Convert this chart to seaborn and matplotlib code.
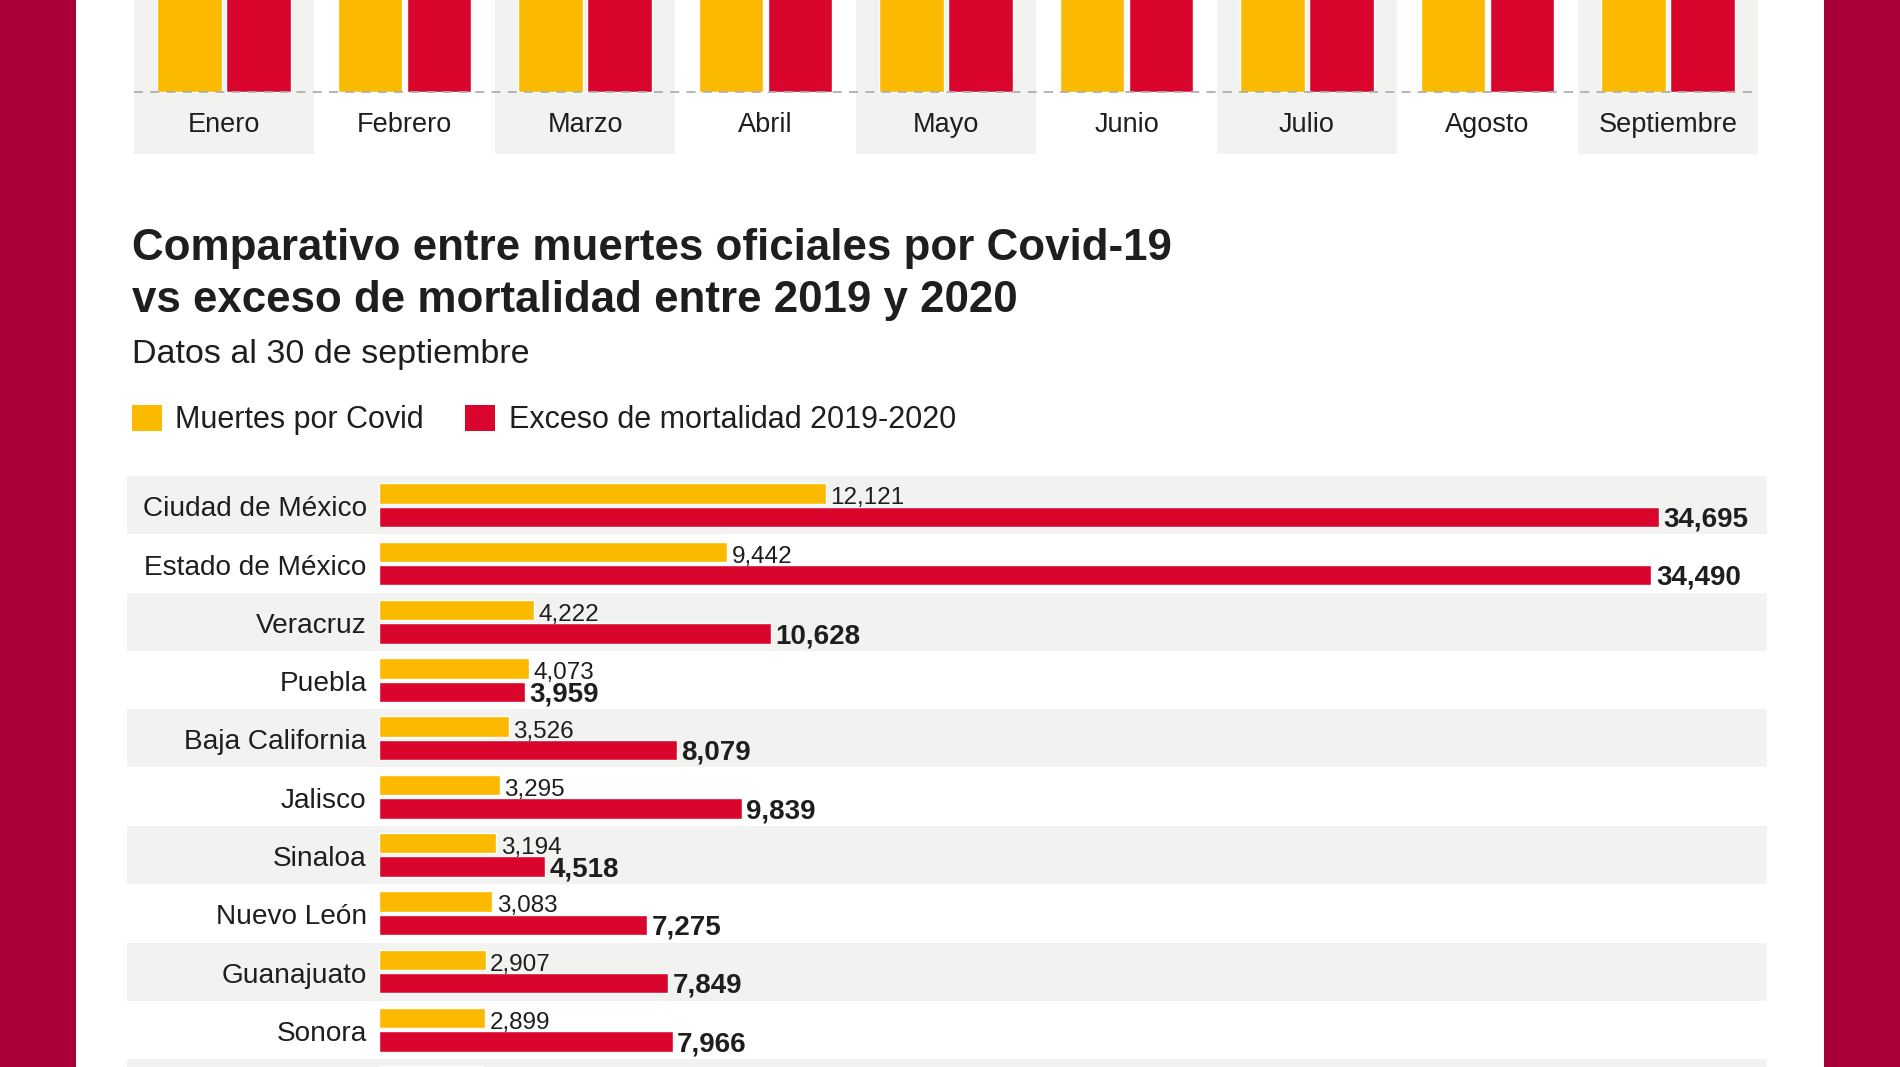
import numpy as np
import pandas as pd
import matplotlib
matplotlib.use("Agg")
import matplotlib.pyplot as plt
import matplotlib.transforms as mtransforms
from matplotlib.patches import Rectangle, Patch
import seaborn as sns

# ---------------- data ----------------
meses = ["Enero", "Febrero", "Marzo", "Abril", "Mayo", "Junio", "Julio", "Agosto", "Septiembre"]
# Upper monthly panel: the bars are cut by the top edge of the picture, only their bases are
# visible, so these are rough estimates (all of them run past the visible area).
mes_serie_amarilla = [67000, 58000, 62000, 57000, 60000, 56000, 58000, 57000, 56000]
mes_serie_roja = [70000, 62000, 65000, 75000, 105000, 110000, 115000, 95000, 80000]

estados = ["Ciudad de México", "Estado de México", "Veracruz", "Puebla", "Baja California",
           "Jalisco", "Sinaloa", "Nuevo León", "Guanajuato", "Sonora", ""]
muertes_covid = [12121, 9442, 4222, 4073, 3526, 3295, 3194, 3083, 2907, 2899, 2837]
exceso_mortalidad = [34695, 34490, 10628, 3959, 8079, 9839, 4518, 7275, 7849, 7966, None]

serie_covid = "Muertes por Covid"
serie_exceso = "Exceso de mortalidad 2019-2020"

titulo = "Comparativo entre muertes oficiales por Covid-19\nvs exceso de mortalidad entre 2019 y 2020"
subtitulo = "Datos al 30 de septiembre"

# ---------------- style ----------------
AMARILLO = "#FBBA00"
ROJO = "#DA052C"
GRANATE = "#A9003A"
GRIS = "#F2F2F0"
TEXTO = "#1E1E1C"

sns.set_theme(style="white")
plt.rcParams["font.family"] = ["Liberation Sans", "DejaVu Sans"]
plt.rcParams["text.color"] = TEXTO

W, H = 1900, 1067
fig = plt.figure(figsize=(W / 100, H / 100), dpi=100)
fig.patch.set_facecolor(GRANATE)
fig.add_artist(Rectangle((76 / W, 0), (1824 - 76) / W, 1, transform=fig.transFigure,
                         facecolor="white", edgecolor="none", zorder=-5))


def box(l, t, r, b):
    return [l / W, 1 - b / H, (r - l) / W, (b - t) / H]


# ---------------- upper monthly panel ----------------
df_mes = pd.DataFrame({
    "mes": meses * 2,
    "valor": mes_serie_amarilla + mes_serie_roja,
    "serie": ["a"] * len(meses) + ["b"] * len(meses),
})
ax1 = fig.add_axes(box(133.75, 0, 1758.25, 154))
ax1.set_facecolor("none")
sns.barplot(data=df_mes, x="mes", y="valor", hue="serie", palette=[AMARILLO, ROJO],
            width=0.76, gap=0.06, saturation=1, errorbar=None, legend=False, ax=ax1, zorder=2)
ytop = 5000
ybot = -ytop * 62.5 / 91.5
ax1.set_ylim(ybot, ytop)
ax1.set_xlim(-0.5, len(meses) - 0.5)
for i in range(0, len(meses), 2):
    ax1.axvspan(i - 0.4986, i + 0.4986, color=GRIS, zorder=0, lw=0)
ax1.axhline(0, color="#AFAFAF", lw=1.3, ls=(0, (5, 4)), zorder=3)
tr1 = mtransforms.blended_transform_factory(ax1.transData, ax1.transAxes)
for i, m in enumerate(meses):
    ax1.text(i, 0.19, m, transform=tr1, ha="center", va="center", fontsize=19.5, color=TEXTO)
ax1.set_xticks([])
ax1.set_yticks([])
ax1.set_xlabel("")
ax1.set_ylabel("")
sns.despine(ax=ax1, left=True, bottom=True)

# ---------------- titles ----------------
fig.text(131.6 / W, 1 - 260 / H, titulo.split("\n")[0], fontsize=31.6, fontweight="bold",
         va="baseline", ha="left")
fig.text(131.6 / W, 1 - 312 / H, titulo.split("\n")[1], fontsize=31.6, fontweight="bold",
         va="baseline", ha="left")
fig.text(131.6 / W, 1 - 363 / H, subtitulo, fontsize=24.5, va="baseline", ha="left")

# legend
handles = [Patch(facecolor=AMARILLO, edgecolor="none", label=serie_covid),
           Patch(facecolor=ROJO, edgecolor="none", label=serie_exceso)]
fig.legend(handles=handles, loc="center left", bbox_to_anchor=(131.6 / W, 1 - 420 / H),
           ncol=2, frameon=False, fontsize=22, borderpad=0, borderaxespad=0,
           handlelength=0.98, handleheight=0.95, handletextpad=0.45, columnspacing=1.35)

# ---------------- main horizontal bar chart ----------------
rows = []
for e, c, x in zip(estados, muertes_covid, exceso_mortalidad):
    rows.append({"estado": e, "serie": serie_covid, "valor": c})
    if x is not None:
        rows.append({"estado": e, "serie": serie_exceso, "valor": x})
df = pd.DataFrame(rows)

ax2 = fig.add_axes(box(127, 476, 1767, 1067))
ax2.set_facecolor("none")
sns.barplot(data=df, y="estado", x="valor", hue="serie", order=estados,
            hue_order=[serie_covid, serie_exceso], palette=[AMARILLO, ROJO],
            orient="h", width=0.8, gap=0.125, saturation=1, errorbar=None,
            legend=False, ax=ax2, zorder=2)
x0_px = 378.5
px_per_unit = (1659 - x0_px) / 34695
ax2.set_xlim(-(x0_px - 127) / px_per_unit, (1767 - x0_px) / px_per_unit)
ax2.set_ylim(-0.5 + (1067 - 476) / 58.3, -0.5)
for i in range(0, len(estados), 2):
    ax2.axhspan(i - 0.497, i + 0.497, color=GRIS, zorder=0, lw=0)

for i, (e, c, x) in enumerate(zip(estados, muertes_covid, exceso_mortalidad)):
    if e:
        ax2.annotate(e, xy=(0, i), xytext=(-8.5, -8.0), textcoords="offset points",
                     ha="right", va="baseline", fontsize=20.2, color=TEXTO,
                     annotation_clip=False)
    ax2.annotate(f"{c:,}", xy=(c, i), xytext=(3.2, 0.6), textcoords="offset points",
                 ha="left", va="baseline", fontsize=17.5, color=TEXTO, annotation_clip=False)
    if x is not None:
        ax2.annotate(f"{x:,}", xy=(x, i), xytext=(3.4, -15.4), textcoords="offset points",
                     ha="left", va="baseline", fontsize=20, fontweight="bold", color=TEXTO,
                     annotation_clip=False)

ax2.set_xticks([])
ax2.set_yticks([])
ax2.set_xlabel("")
ax2.set_ylabel("")
sns.despine(ax=ax2, left=True, bottom=True)

fig.savefig("out.png", dpi=100, facecolor=fig.get_facecolor())
